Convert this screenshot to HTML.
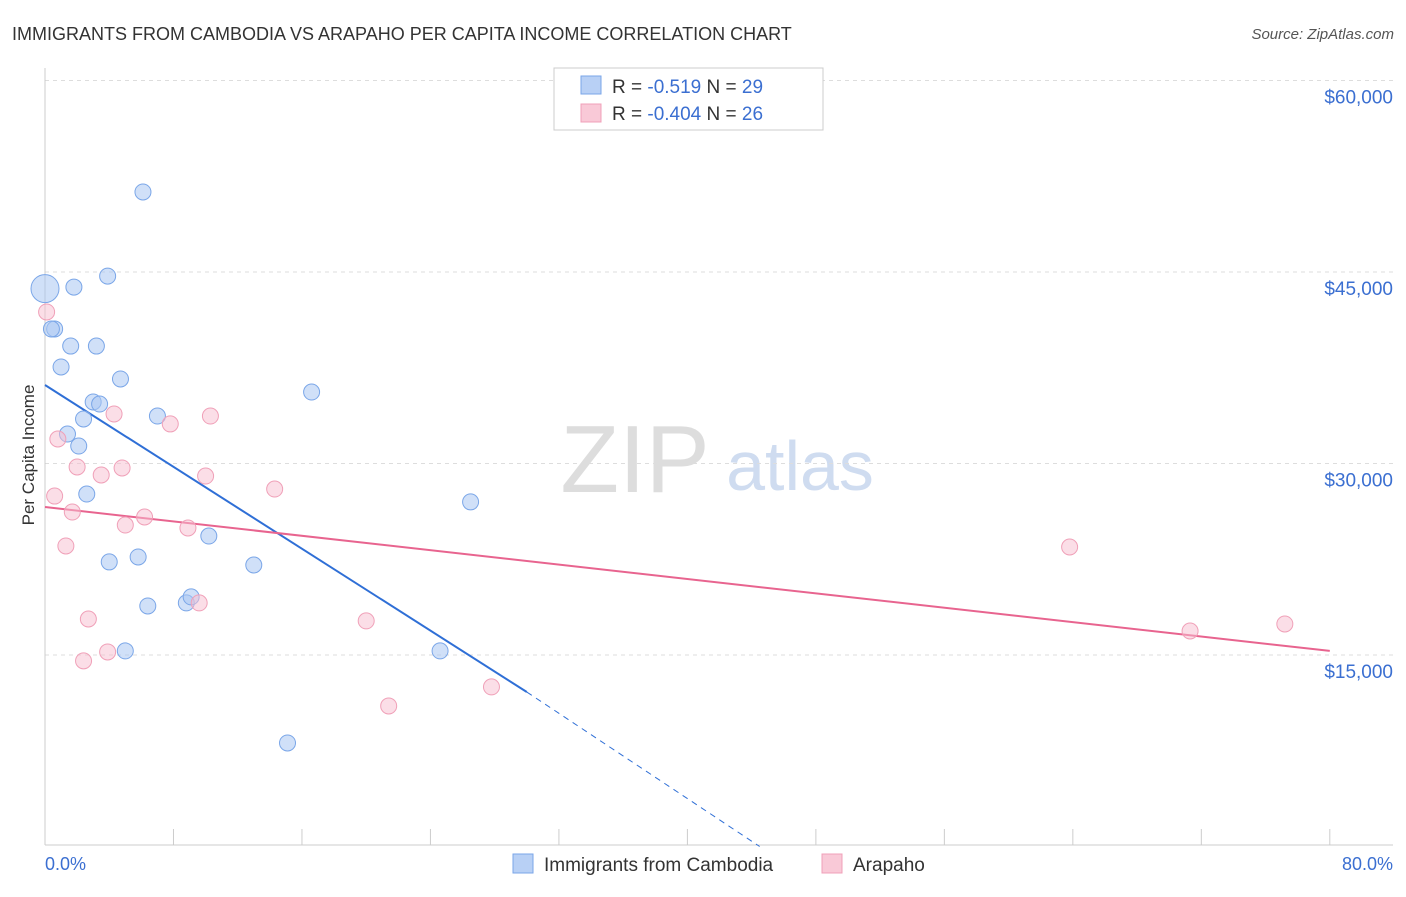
<!DOCTYPE html>
<html><head><meta charset="utf-8"><style>
body{margin:0;background:#fff;font-family:"Liberation Sans",sans-serif;}
svg text{font-family:"Liberation Sans",sans-serif;}
</style></head><body>
<svg id="chart" width="1406" height="892">
<text x="12" y="40" font-size="18" fill="#333">IMMIGRANTS FROM CAMBODIA VS ARAPAHO PER CAPITA INCOME CORRELATION CHART</text>
<text x="1394" y="39" font-size="15" fill="#555" text-anchor="end" font-style="italic">Source: ZipAtlas.com</text>
<text x="635" y="492" font-size="96" fill="#ddd" font-family="Liberation Serif" text-anchor="middle">ZIP</text>
<text x="800" y="490" font-size="70" fill="#cfdcf0" text-anchor="middle">atlas</text>
<text transform="translate(34,455) rotate(-90)" font-size="17" fill="#333" text-anchor="middle">Per Capita Income</text>
<g id="grid"></g><g id="lines"></g><g id="pts"></g>
<g>
<rect x="554" y="68" width="269" height="62" fill="#fff" stroke="#ccc"/>
<rect x="581" y="76" width="20" height="18" fill="#b8d0f5" stroke="#7aa6e8"/>
<text x="612" y="93" font-size="19" fill="#333">R = <tspan fill="#3b6fd1">-0.519</tspan>   N = <tspan fill="#3b6fd1">29</tspan></text>
<rect x="581" y="104" width="20" height="18" fill="#f9c9d7" stroke="#f0a0b8"/>
<text x="612" y="120" font-size="19" fill="#333">R = <tspan fill="#3b6fd1">-0.404</tspan>   N = <tspan fill="#3b6fd1">26</tspan></text>
</g>
<g>
<rect x="513" y="854" width="20" height="19" fill="#b8d0f5" stroke="#7aa6e8"/>
<text x="544" y="871" font-size="19" fill="#333">Immigrants from Cambodia</text>
<rect x="822" y="854" width="20" height="19" fill="#f9c9d7" stroke="#f0a0b8"/>
<text x="853" y="871" font-size="19" fill="#333">Arapaho</text>
</g>
<text x="45" y="870" font-size="18" fill="#3b6fd1">0.0%</text>
<text x="1393" y="870" font-size="18" fill="#3b6fd1" text-anchor="end">80.0%</text>
</svg>
<script>
const yTicks=[15000,30000,45000,60000];
const yTickLabels=["$15,000","$30,000","$45,000","$60,000"];
const xTicks=[0,8,16,24,32,40,48,56,64,72,80];
const blueX=[0,1.8,3.9,6.1,0.6,1.6,3.2,1.0,4.7,3.0,3.4,2.4,7.0,1.4,2.1,16.6,2.6,26.5,10.2,4.0,5.8,13.0,6.4,8.8,9.1,5.0,24.6,15.1,0.4];
const blueY=[43700,43820,44680,51270,40540,39200,39200,37560,36620,34820,34660,33490,33720,32310,31370,35600,27610,26990,24320,22290,22680,22050,18840,19080,19550,15320,15320,8110,40540];
const pinkX=[0.1,0.8,4.3,7.8,10.3,2.0,4.8,3.5,10.0,0.6,1.7,6.2,5.0,8.9,14.3,1.3,2.7,9.6,20.0,2.4,3.9,21.4,27.8,63.8,71.3,77.2];
const pinkY=[41870,31920,33880,33100,33720,29730,29650,29100,29020,27450,26200,25810,25180,24950,28000,23540,17820,19080,17670,14540,15240,11010,12500,23460,16880,17430];
const blueTrend=[[0,36150],[30,12100],[44.5,0]];
const pinkTrend=[[0,26590],[80,15320]];
const X=p=>45+p*16.06, Y=v=>846.5-v/78.33;
const NS="http://www.w3.org/2000/svg";
function mk(t,a,parent){const e=document.createElementNS(NS,t);for(const k in a)e.setAttribute(k,a[k]);parent.appendChild(e);return e;}
const grid=document.getElementById('grid');
yTicks.forEach((v,i)=>{
 const l=mk('line',{x1:45,x2:1393,y1:Y(v),y2:Y(v),stroke:'#ddd','stroke-dasharray':'4,4'},grid);
 
 
 const t=mk('text',{x:1393,y:Y(v)+23,'font-size':19,fill:'#3b6fd1','text-anchor':'end'},grid);
 t.textContent=yTickLabels[i];
 
 
});
const ax=mk('line',{x1:45,x2:1393,y1:845,y2:845,stroke:'#ccc'},grid);


const ay=mk('line',{x1:45,x2:45,y1:68,y2:845,stroke:'#ccc'},grid);


xTicks.forEach(p=>{
 const t=mk('line',{x1:X(p),x2:X(p),y1:829,y2:845,stroke:'#ccc'},grid);
 
 
});
const lines=document.getElementById('lines');
const b1=mk('line',{x1:X(blueTrend[0][0]),y1:Y(blueTrend[0][1]),x2:X(blueTrend[1][0]),y2:Y(blueTrend[1][1]),stroke:'#2f6fd6','stroke-width':2},lines);


const b2=mk('line',{x1:X(blueTrend[1][0]),y1:Y(blueTrend[1][1]),x2:X(blueTrend[2][0]),y2:Y(blueTrend[2][1]),stroke:'#2f6fd6','stroke-width':1,'stroke-dasharray':'6,5'},lines);


const p1=mk('line',{x1:X(pinkTrend[0][0]),y1:Y(pinkTrend[0][1]),x2:X(pinkTrend[1][0]),y2:Y(pinkTrend[1][1]),stroke:'#e8648f','stroke-width':2},lines);


const pts=document.getElementById('pts');
blueX.forEach((x,i)=>{
 const c=mk('circle',{cx:X(x),cy:Y(blueY[i]),r:i==0?14:8,fill:'rgba(170,198,242,0.55)',stroke:'#7aa6e8','stroke-width':1},pts);
 
 
});
pinkX.forEach((x,i)=>{
 const c=mk('circle',{cx:X(x),cy:Y(pinkY[i]),r:8,fill:'rgba(248,190,208,0.5)',stroke:'#f0a0b8','stroke-width':1},pts);
 
 
});
</script>
</body></html>
